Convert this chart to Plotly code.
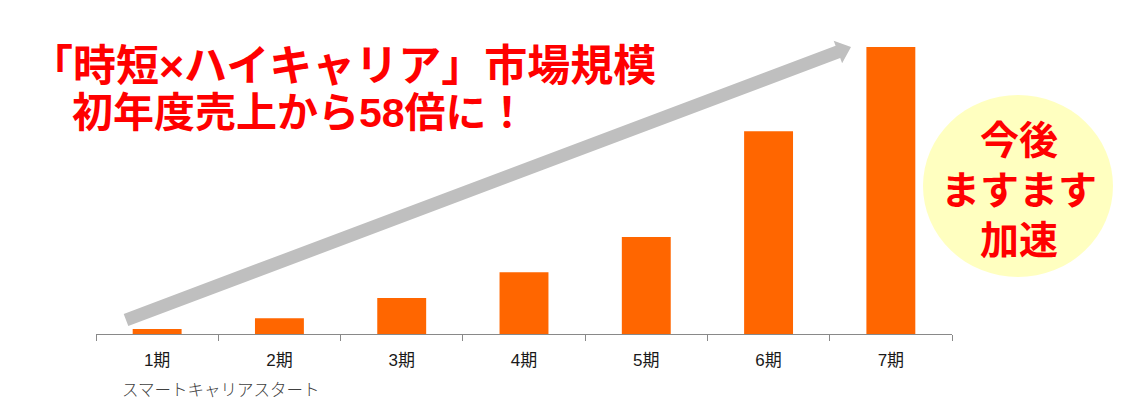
import math
import plotly.graph_objects as go

# ---- data ----
periods = ["1期", "2期", "3期", "4期", "5期", "6期", "7期"]
sales = [1.0, 3.2, 7.3, 12.5, 19.6, 41.0, 58.0]
title_line1 = "「時短×ハイキャリア」市場規模"
title_line2 = "初年度売上から58倍に！"
circle_lines = ["今後", "ますます", "加速"]
start_note = "スマートキャリアスタート"

W, H = 1128, 412
L, R, T, B = 96, 176, 20, 78
PW, PH = W - L - R, H - T - B
YMAX = 63.46

JP_BOLD = "Liberation Sans, Noto Sans CJK JP"


def px(x):
    return (x - L) / PW


def py(y):
    return (H - B - y) / PH


fig = go.Figure()
fig.add_trace(go.Bar(
    x=periods, y=sales, marker=dict(color="#FF6600", line=dict(width=0)),
    width=0.4, hoverinfo="skip", showlegend=False,
))

# arrow (decorative) polygon
sx, sy = 126, 320
tx, ty = 851, 47
dx, dy = tx - sx, ty - sy
ln = math.hypot(dx, dy)
ux, uy = dx / ln, dy / ln
nx, ny = -uy, ux
hw, hl, hh = 6.5, 14, 12
bx, by = tx - hl * ux, ty - hl * uy
pts = [
    (sx + hw * nx, sy + hw * ny),
    (bx + hw * nx, by + hw * ny),
    (bx + hh * nx, by + hh * ny),
    (tx, ty),
    (bx - hh * nx, by - hh * ny),
    (bx - hw * nx, by - hw * ny),
    (sx - hw * nx, sy - hw * ny),
]
path = "M " + " L ".join(f"{px(a):.5f},{py(b):.5f}" for a, b in pts) + " Z"

shapes = [
    dict(type="path", xref="paper", yref="paper", path=path,
         fillcolor="#BFBFBF", line=dict(width=0), layer="above"),
    dict(type="circle", xref="paper", yref="paper",
         x0=px(923), x1=px(1113), y0=py(277), y1=py(95),
         fillcolor="#FFFFC0", line=dict(width=0), layer="above"),
]

annotations = [
    dict(text=title_line1, x=px(28), y=py(66), xref="paper", yref="paper",
         xanchor="left", yanchor="middle", showarrow=False,
         font=dict(family=JP_BOLD, size=43, color="#FF0000", weight="bold")),
    dict(text=title_line2, x=px(70), y=py(113), xref="paper", yref="paper",
         xanchor="left", yanchor="middle", showarrow=False,
         font=dict(family=JP_BOLD, size=41, color="#FF0000", weight="bold")),
    dict(text=start_note, x=px(120), y=py(389), xref="paper", yref="paper",
         xanchor="left", yanchor="middle", showarrow=False,
         font=dict(family="Noto Sans CJK JP", size=16.5, color="#404040", weight=300)),
]
for txt, yy in zip(circle_lines, [140, 190, 240]):
    annotations.append(dict(text=txt, x=px(1019), y=py(yy), xref="paper", yref="paper",
                            xanchor="center", yanchor="middle", showarrow=False,
                            font=dict(family=JP_BOLD, size=39, color="#FF0000",
                                      weight="bold")))

fig.update_layout(
    width=W, height=H,
    margin=dict(l=L, r=R, t=T, b=B, pad=0),
    paper_bgcolor="white", plot_bgcolor="white",
    shapes=shapes, annotations=annotations,
    xaxis=dict(type="category", range=[-0.5, 6.5], showline=True, linecolor="#898989",
               linewidth=1, ticks="outside", tickson="boundaries", ticklen=6,
               tickcolor="#898989", tickwidth=1, showgrid=False, zeroline=False,
               tickfont=dict(family="Liberation Sans, Noto Sans CJK JP", size=17,
                             color="#1a1a1a"),
               ticklabelstandoff=11),
    yaxis=dict(visible=False, range=[0, YMAX], showgrid=False, zeroline=False),
    bargap=0.6,
    showlegend=False,
)

fig.write_html("out.html", config={"displayModeBar": False},
               post_script="document.body.style.margin='0';")
